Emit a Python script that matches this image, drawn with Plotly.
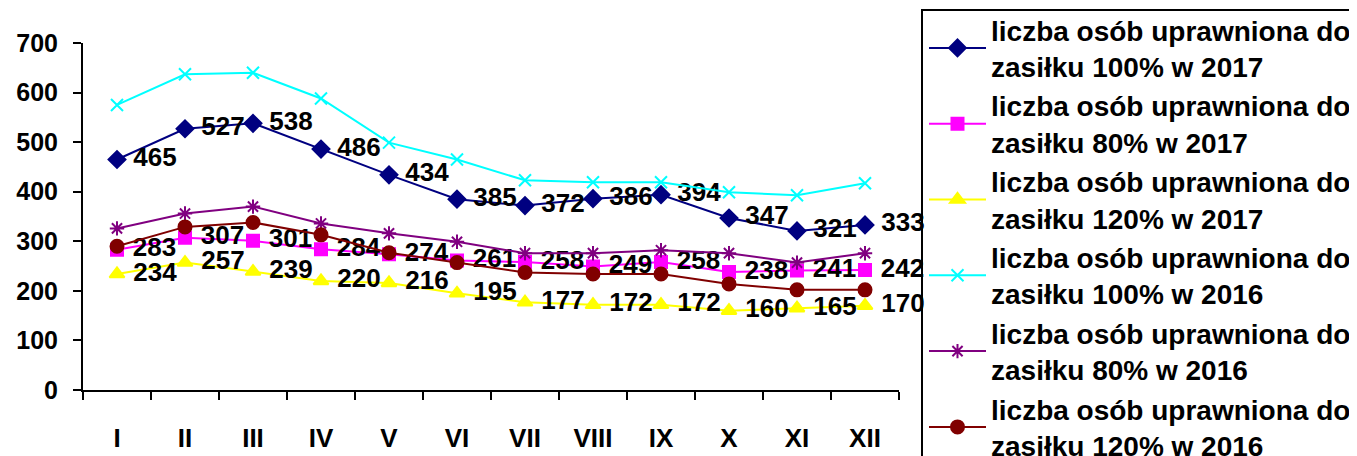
import plotly.graph_objects as go

months = ["I", "II", "III", "IV", "V", "VI", "VII", "VIII", "IX", "X", "XI", "XII"]

s100_2017 = [465, 527, 538, 486, 434, 385, 372, 386, 394, 347, 321, 333]
s80_2017 = [283, 307, 301, 284, 274, 261, 258, 249, 258, 238, 241, 242]
s120_2017 = [234, 257, 239, 220, 216, 195, 177, 172, 172, 160, 165, 170]
s100_2016 = [575, 637, 640, 588, 499, 465, 423, 419, 419, 399, 393, 417]
s80_2016 = [326, 356, 370, 336, 316, 299, 276, 276, 282, 276, 257, 276]
s120_2016 = [290, 329, 338, 313, 277, 257, 237, 234, 234, 214, 202, 202]

names = [
    "liczba osób uprawniona do<br>zasiłku 100% w 2017",
    "liczba osób uprawniona do<br>zasiłku 80% w 2017",
    "liczba osób uprawniona do<br>zasiłku 120% w 2017",
    "liczba osób uprawniona do<br>zasiłku 100% w 2016",
    "liczba osób uprawniona do<br>zasiłku 80% w 2016",
    "liczba osób uprawniona do<br>zasiłku 120% w 2016",
]

FONT = "Liberation Sans, Arial, sans-serif"

series = [
    (s100_2017, "#000080", "diamond", 13, True),
    (s80_2017, "#FF00FF", "square", 12, True),
    (s120_2017, "#FFFF00", "triangle-up", 13, True),
    (s100_2016, "#00FFFF", "x-thin-open", 12, False),
    (s80_2016, "#800080", "asterisk-open", 12, False),
    (s120_2016, "#800000", "circle", 13, False),
]

# page body has an 8px margin, so the figure is offset by 8px
W, H = 1349, 448
L, R, T, B = 75, 458, 35, 66
PW, PH = W - L - R, H - T - B

fig = go.Figure()
for i, (vals, col, sym, sz, lab) in enumerate(series):
    fig.add_trace(go.Scatter(
        x=months, y=vals, name=names[i], legendgroup=f"g{i}",
        mode="lines+markers+text" if lab else "lines+markers",
        line=dict(color=col, width=2),
        marker=dict(color=col, symbol=sym, size=sz, line=dict(color=col, width=2)),
        text=[f" {v}" for v in vals] if lab else None,
        textposition="middle right",
        textfont=dict(family=FONT, size=26, color="black", weight="bold"),
        cliponaxis=False,
    ))

# legend frame (drawn as a shape so its position is independent of legend padding)
fig.add_shape(
    type="rect", xref="paper", yref="paper", layer="above",
    x0=(914 - L) / PW, x1=(1400 - L) / PW,
    y0=-0.5, y1=1 + (T - 2) / PH,
    line=dict(color="black", width=2), fillcolor="rgba(0,0,0,0)",
)

fig.update_layout(
    width=W, height=H,
    paper_bgcolor="white", plot_bgcolor="white",
    margin=dict(l=L, r=R, t=T, b=B, autoexpand=False),
    font=dict(family=FONT, color="black"),
    showlegend=True,
    legend=dict(
        xref="container", yref="paper",
        x=916 / W, y=1 + (T + 3) / PH, xanchor="left", yanchor="top",
        borderwidth=0, bgcolor="rgba(0,0,0,0)",
        font=dict(family=FONT, size=28, color="black", weight="bold"),
        itemwidth=57, tracegroupgap=0, maxheight=700,
    ),
)
fig.update_xaxes(
    type="category", range=[-0.5, 11.5], automargin=False,
    showline=True, linecolor="black", linewidth=2,
    ticks="outside", tickson="boundaries", ticklen=8, tickwidth=2, tickcolor="black",
    showgrid=False, zeroline=False,
    tickfont=dict(family=FONT, size=26, color="black", weight="bold"),
    ticklabelstandoff=24,
)
fig.update_yaxes(
    range=[0, 700], dtick=100, automargin=False,
    showline=True, linecolor="black", linewidth=2,
    ticks="outside", ticklen=8, tickwidth=2, tickcolor="black",
    showgrid=False, zeroline=False,
    tickfont=dict(family=FONT, size=25, color="black", weight="bold"),
    ticklabelstandoff=10,
)

fig.write_html("out.html")
